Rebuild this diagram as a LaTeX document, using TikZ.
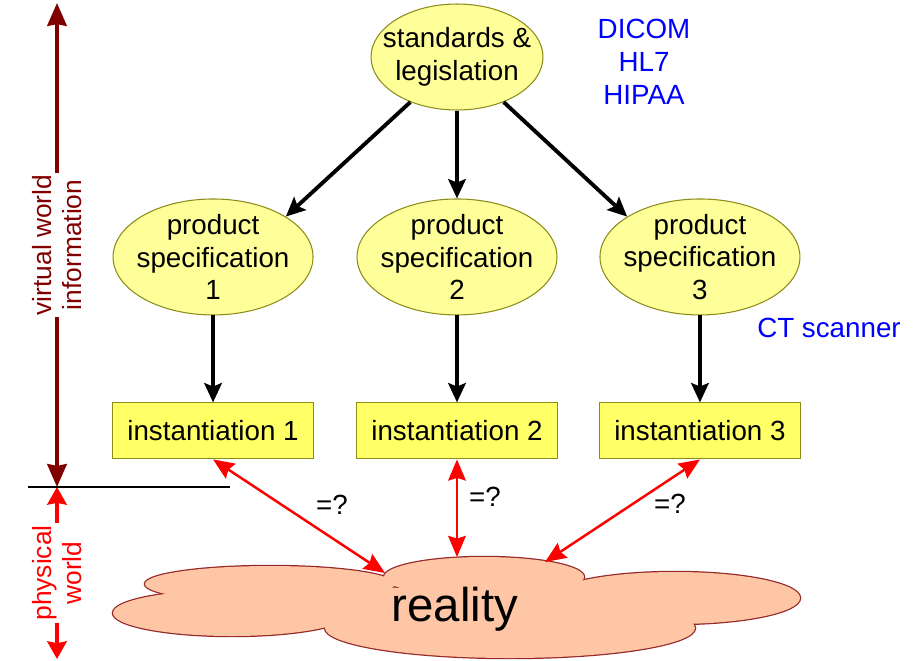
\documentclass[tikz,border=0pt]{standalone}
\usepackage{fontspec}
\setmainfont{Liberation Sans}
\usepackage{xcolor}
\usepackage{tikz}
\usetikzlibrary{shapes.geometric, arrows.meta, positioning}

\definecolor{specfill}{HTML}{FFFF99}
\definecolor{instfill}{HTML}{FFFF66}
\definecolor{boxline}{HTML}{8C8C1A}
\definecolor{cloudfill}{HTML}{FFC6A5}
\definecolor{cloudline}{HTML}{962828}
\definecolor{virtred}{HTML}{800000}

\newcommand{\mainsize}{\fontsize{15.8}{18.7}\selectfont}
\newcommand{\sidesize}{\fontsize{15}{17.5}\selectfont}

\begin{document}
\begin{tikzpicture}[x=0.02cm, y=-0.02cm, node distance=4cm]
    \tikzstyle{stdnode} = [ellipse, draw=boxline, fill=specfill, line width=0.6pt, align=center, inner sep=-1cm, minimum width=3.44cm, minimum height=2.12cm, font=\mainsize]
    \tikzstyle{spec} = [ellipse, draw=boxline, fill=specfill, line width=0.6pt, align=center, inner sep=-1cm, minimum width=4cm, minimum height=2.32cm, font=\mainsize]
    \tikzstyle{inst} = [rectangle, draw=boxline, fill=instfill, line width=0.6pt, inner sep=0pt, minimum width=4.02cm, minimum height=1.12cm, font=\mainsize]
    \tikzstyle{side} = [rotate=90, align=center, inner xsep=1pt, font=\sidesize]
    \tikzstyle{bluelab} = [align=center, text=blue, font=\mainsize]
    \tikzstyle{eqlab} = [font=\mainsize]
    \tikzstyle{line} = [draw, line width=2.2pt, -{Stealth[length=11pt, width=10pt, inset=2pt]}]
    \tikzstyle{realline} = [draw, red, line width=1.4pt, {Stealth[length=12pt, width=10pt, inset=1.5pt]}-{Stealth[length=12pt, width=10pt, inset=1.5pt]}]
    \tikzstyle{virtline} = [draw, virtred, line width=2.3pt, -{Stealth[length=13pt, width=11pt, inset=1pt]}]
    \tikzstyle{physline} = [draw, red, line width=2.3pt, -{Stealth[length=10pt, width=11pt, inset=1pt]}]

    \useasboundingbox (0,0) rectangle (920,660);

    % reality cloud
    \foreach \cx/\cy/\rx/\ry in {270/584/125/18, 232/613/119/23, 484/577/100/20, 675/598/125/26, 510/628/185/30}
        \draw [cloudline, line width=1.4pt] (\cx,\cy) ellipse [x radius=\rx, y radius=\ry];
    \foreach \cx/\cy/\rx/\ry in {270/584/125/18, 232/613/119/23, 484/577/100/20, 675/598/125/26, 510/628/185/30, 460/605/190/18}
        \fill [cloudfill] (\cx,\cy) ellipse [x radius=\rx, y radius=\ry];
    \node [font=\fontsize{27}{31}\selectfont] (reality) at (455,609) {reality};
    \coordinate (r1) at (385,573);
    \coordinate (r2) at (457,557);
    \coordinate (r3) at (545,562);

    \node [stdnode] (std) at (457,57) {standards \&\\legislation};
    \node [spec, below of=std] (spec2) {product\\specification\\2};
    \node [spec, left of=spec2, node distance=4.88cm] (spec1) {product\\specification\\1};
    \node [spec, right of=spec2, node distance=4.86cm] (spec3) {product\\specification\\3};
    \node [inst, below of=spec1, node distance=3.48cm] (inst1) {instantiation 1};
    \node [inst, below of=spec2, node distance=3.48cm] (inst2) {instantiation 2};
    \node [inst, below of=spec3, node distance=3.48cm] (inst3) {instantiation 3};

    \node [bluelab] (stdnames) at (644,62) {DICOM\\HL7\\HIPAA};
    \node [bluelab] (ctlabel) at (829,328) {CT scanner};

    \path [line] (std.-136) -- (spec1.29);
    \path [line] (std.south) -- (spec2.north);
    \path [line] (std.-44) -- (spec3.151);
    \path [line] (spec1.south) -- (inst1.north);
    \path [line] (spec2.south) -- (inst2.north);
    \path [line] (spec3.south) -- (inst3.north);

    \path [realline] (inst1.south) -- (r1);
    \path [realline] (inst2.south) -- (r2);
    \path [realline] (inst3.south) -- (r3);
    \node [eqlab] (eq1) at (332,505) {=?};
    \node [eqlab] (eq2) at (485,497) {=?};
    \node [eqlab] (eq3) at (670,504) {=?};

    % world axis on the left
    \node [side, text=virtred] (virtual) at (57,245) {virtual world\\information};
    \node [side, text=red] (physical) at (57,573) {physical\\world};
    \coordinate (vtop) at (57,3);
    \coordinate (border) at (57,487);
    \coordinate (pbot) at (57,659);
    \coordinate (hleft) at (28,487);
    \coordinate (hright) at (230,487);
    \path [virtline] (virtual) -- (vtop);
    \path [virtline] (virtual) -- (border);
    \path [physline] (physical) -- (border);
    \path [physline] (physical) -- (pbot);
    \draw [line width=0.6pt] (hleft) -- (hright);
\end{tikzpicture}
\end{document}
